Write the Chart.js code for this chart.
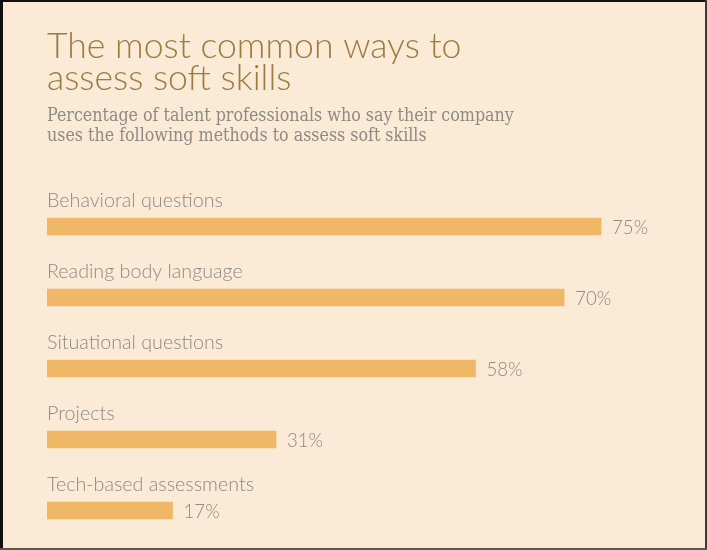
<!DOCTYPE html>
<html>
<head>
<meta charset="utf-8">
<script src="https://cdn.jsdelivr.net/npm/chart.js@4/dist/chart.umd.min.js"></script>
<style>
  html, body { margin: 0; padding: 0; background: #faead6; }
  #wrap { width: 707px; height: 550px; position: relative; }
  canvas { display: block; }
</style>
</head>
<body>
<div id="wrap"><canvas id="chart" width="707" height="550"></canvas></div>
<script>
// Survey results: share of talent professionals using each method
const categories = [
  "Behavioral questions",
  "Reading body language",
  "Situational questions",
  "Projects",
  "Tech-based assessments"
];
const percentages = [75, 70, 58, 31, 17];

const titleLines = ["The most common ways to", "assess soft skills"];
const subtitleLines = [
  "Percentage of talent professionals who say their company",
  "uses the following methods to assess soft skills"
];

const BG = "#faead6";
const BAR = "#f0b866";
const TITLE_COLOR = "#9d7a40";
const SUB_COLOR = "#8f8a84";
const LABEL_COLOR = "#8e8a85";

// Pick a font size so that a line spans the requested width
function fitFont(ctx, text, family, weight, width) {
  ctx.font = weight + " 100px " + family;
  const w = ctx.measureText(text).width;
  return Math.round(100 * width / w * 10) / 10;
}

const textPlugin = {
  id: "textPlugin",
  beforeDraw(chart) {
    const ctx = chart.ctx;
    ctx.save();
    ctx.fillStyle = BG;
    ctx.fillRect(0, 0, chart.width, chart.height);
    ctx.restore();
  },
  afterDatasetsDraw(chart) {
    const ctx = chart.ctx;
    const xs = chart.scales.x;
    const ys = chart.scales.y;
    const left = chart.chartArea.left;
    ctx.save();
    ctx.textAlign = "left";
    ctx.textBaseline = "alphabetic";

    // Headline
    const tFam = "Lato, 'Open Sans', sans-serif";
    const tSize = fitFont(ctx, titleLines[0], tFam, "300", 415);
    ctx.font = "300 " + tSize + "px " + tFam;
    ctx.fillStyle = TITLE_COLOR;
    ctx.fillText(titleLines[0], left, 58);
    ctx.fillText(titleLines[1], left, 90);

    // Subheading
    const sFam = "'DejaVu Serif Condensed', 'DejaVu Serif', serif";
    const sSize = fitFont(ctx, subtitleLines[0], sFam, "400", 467);
    ctx.font = "400 " + sSize + "px " + sFam;
    ctx.fillStyle = SUB_COLOR;
    ctx.fillText(subtitleLines[0], left, 121);
    ctx.fillText(subtitleLines[1], left, 141);

    // Category names above each bar, values after each bar
    const cFam = "Lato, 'Open Sans', sans-serif";
    const cSize = fitFont(ctx, categories[0], cFam, "300", 176);
    const vSize = fitFont(ctx, percentages[0] + "%", cFam, "300", 36);
    categories.forEach((name, i) => {
      const yc = ys.getPixelForValue(i);
      ctx.font = "300 " + cSize + "px " + cFam;
      ctx.fillStyle = LABEL_COLOR;
      ctx.fillText(name, left, yc - 19.5);
      ctx.font = "300 " + vSize + "px " + cFam;
      ctx.fillText(percentages[i] + "%", xs.getPixelForValue(percentages[i]) + 11, yc + 7.5);
    });

    // Frame
    ctx.fillStyle = "#111";
    ctx.fillRect(0, 0, chart.width, 2);
    ctx.fillRect(0, 0, 3, chart.height);
    ctx.fillStyle = "#3a3a3a";
    ctx.fillRect(chart.width - 2, 0, 2, chart.height);
    ctx.fillStyle = "#5a5650";
    ctx.fillRect(0, chart.height - 2, chart.width, 2);
    ctx.restore();
  }
};

new Chart(document.getElementById("chart"), {
  type: "bar",
  data: {
    labels: categories,
    datasets: [{
      data: percentages,
      backgroundColor: BAR,
      borderWidth: 0,
      barThickness: 17
    }]
  },
  options: {
    indexAxis: "y",
    responsive: false,
    devicePixelRatio: 1,
    animation: false,
    layout: { padding: { left: 47, right: 69, top: 191, bottom: 4 } },
    scales: {
      x: { display: false, min: 0, max: 80 },
      y: { display: false }
    },
    plugins: {
      legend: { display: false },
      tooltip: { enabled: false },
      title: { display: false }
    }
  },
  plugins: [textPlugin]
});
</script>
</body>
</html>
